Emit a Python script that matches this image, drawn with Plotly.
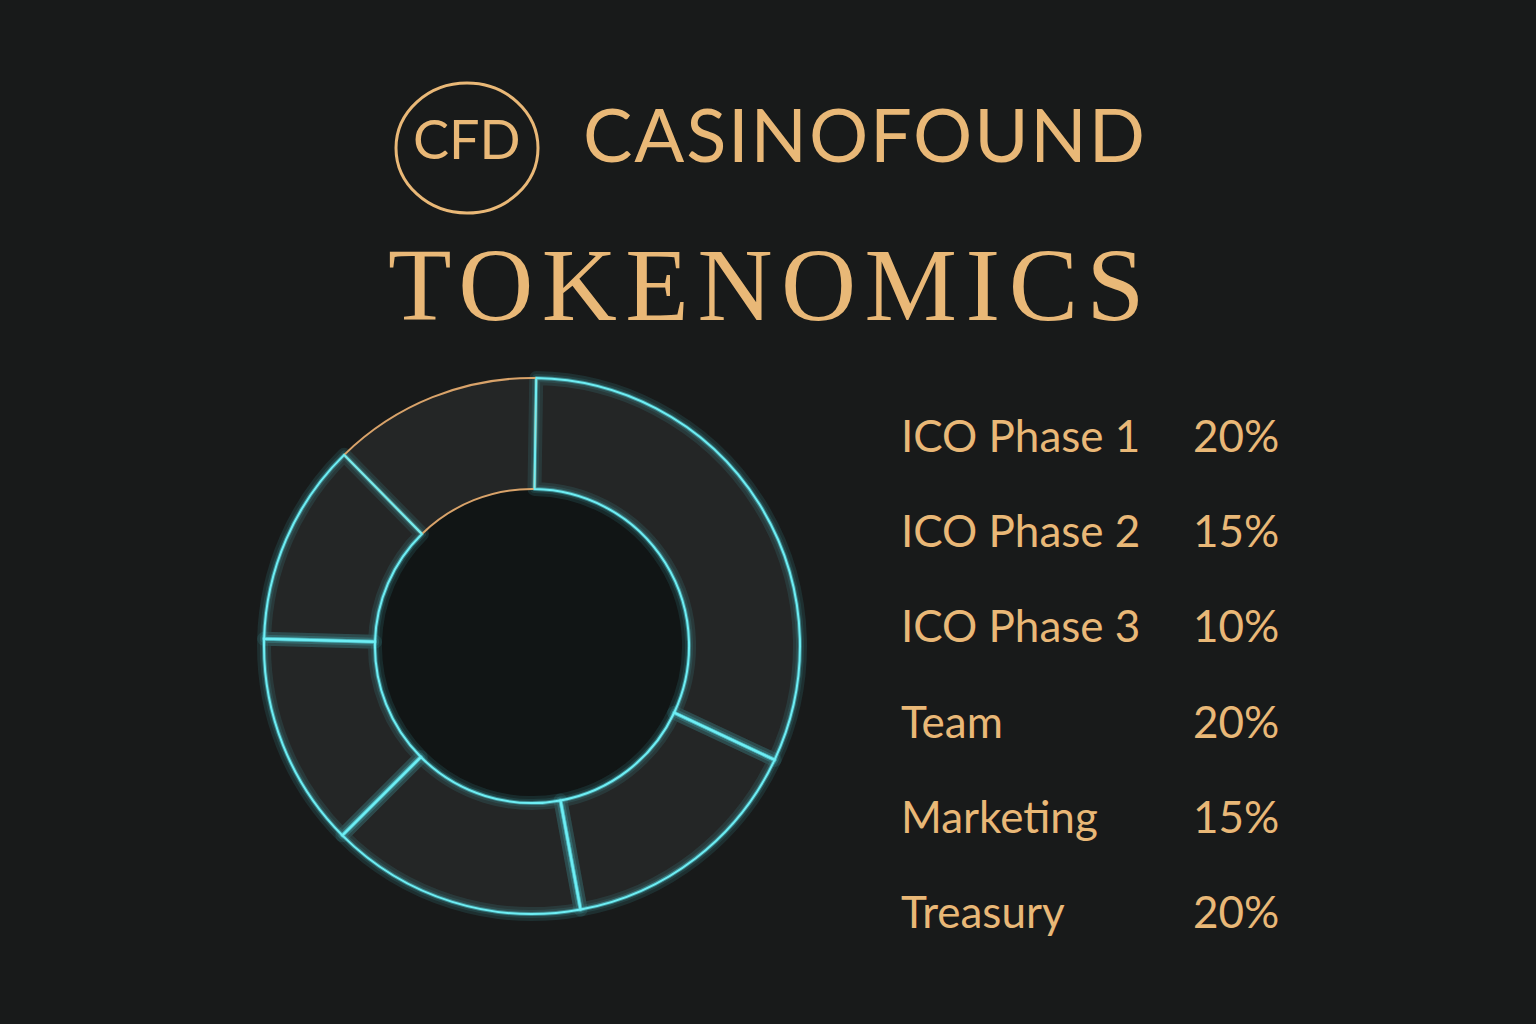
import plotly.graph_objects as go

# data
labels = ['ICO Phase 1', 'ICO Phase 2', 'ICO Phase 3', 'Team', 'Marketing', 'Treasury']
shares = [20, 15, 10, 20, 15, 20]   # % printed in the list

# the donut in the reference is not drawn to the printed shares,
# these are the arc sizes (in % of the ring) as drawn, clockwise from ~315 deg
arc_names = ['arc F', 'arc A', 'arc B', 'arc C', 'arc D', 'arc E']
arc_share = [12.6, 31.7, 15.1, 15.4, 12.9, 12.2]

title_top = 'CASINOFOUND'
title_main = 'TOKENOMICS'
logo_txt = 'CFD'

W, H = 1536, 1024
gold = '#e9b877'
cyan = '#6eeef4'
bg = '#181a1a'
dom = dict(x=[264/W, 800/W], y=[1-914/H, 1-378/H])
hole = 0.586

fig = go.Figure()

# dark disk under the ring -> shows through the hole
fig.add_trace(go.Pie(values=[1], labels=['hole'], domain=dom, sort=False,
                     marker=dict(colors=['#111515'], line=dict(width=0)),
                     textinfo='none', hoverinfo='skip', showlegend=False))

# ring fill
fig.add_trace(go.Pie(values=arc_share, labels=arc_names, domain=dom, hole=hole,
                     sort=False, direction='clockwise', rotation=315.5,
                     marker=dict(colors=['#242626']*6, line=dict(width=0)),
                     textinfo='none', hoverinfo='skip', showlegend=False))

# glow + crisp outline
glow_cols = ['rgba(0,0,0,0)'] + ['rgba(80,220,232,0.11)']*5
for w, cols in [(14, glow_cols), (8, glow_cols),
                (4, ['rgba(0,0,0,0)'] + ['rgba(90,225,235,0.40)']*5),
                (2, ['#d9a36a'] + [cyan]*5)]:
    fig.add_trace(go.Pie(values=arc_share, labels=arc_names, domain=dom, hole=hole,
                         sort=False, direction='clockwise', rotation=315.5,
                         marker=dict(colors=['rgba(0,0,0,0)']*6,
                                     line=dict(width=w, color=cols)),
                         textinfo='none', hoverinfo='skip', showlegend=False))

# legend list on the right
row0, step = 435, 95.2
for i, (lab, s) in enumerate(zip(labels, shares)):
    yy = 1 - (row0 + i*step)/H
    fig.add_annotation(x=899/W, y=yy, xref='paper', yref='paper', text=lab,
                       xanchor='left', yanchor='middle', showarrow=False,
                       font=dict(family='Lato', size=44, color=gold))
    fig.add_annotation(x=1281/W, y=yy, xref='paper', yref='paper', text=f'{s}%',
                       xanchor='right', yanchor='middle', showarrow=False,
                       font=dict(family='Lato', size=44, color=gold))

# header
fig.add_shape(type='circle', xref='paper', yref='paper',
              x0=396/W, x1=538/W, y0=1-213/H, y1=1-83/H,
              line=dict(color=gold, width=3))
fig.add_annotation(x=467/W, y=1-138/H, xref='paper', yref='paper', text=logo_txt,
                   showarrow=False, xanchor='center', yanchor='middle',
                   font=dict(family='Lato', size=54, color=gold))
fig.add_annotation(x=581/W, y=1-133/H, xref='paper', yref='paper',
                   text=f"<span style='letter-spacing:1.8px'>{title_top}</span>",
                   showarrow=False, xanchor='left', yanchor='middle',
                   font=dict(family='Lato', size=74, color=gold))
fig.add_annotation(x=770/W, y=1-284/H, xref='paper', yref='paper',
                   text=f"<span style='letter-spacing:8.5px'>{title_main}</span>",
                   showarrow=False, xanchor='center', yanchor='middle',
                   font=dict(family='Liberation Serif', size=104, color=gold))

fig.update_layout(width=W, height=H, margin=dict(l=0, r=0, t=0, b=0),
                  paper_bgcolor=bg, plot_bgcolor=bg, showlegend=False)

fig.write_html('out.html', config={'displayModeBar': False},
               post_script="document.body.style.margin='0';"
               "document.body.style.background='#181a1a';")
